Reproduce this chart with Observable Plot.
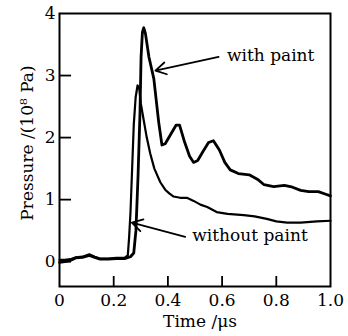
<!DOCTYPE html>
<html>
<head>
<meta charset="utf-8">
<script src="https://cdn.jsdelivr.net/npm/d3@7"></script>
<script src="https://cdn.jsdelivr.net/npm/@observablehq/plot@0.6"></script>
<style>
  html, body { margin: 0; padding: 0; background: white; }
</style>
</head>
<body>
<div id="chart"></div>
<script>
// With paint (thick line)
const timeWith = [0.000,0.020,0.040,0.060,0.085,0.110,0.130,0.150,0.180,0.210,0.240,0.262,0.274,0.282,0.290,0.297,0.301,0.306,0.311,0.317,0.330,0.348,0.366,0.378,0.390,0.410,0.430,0.443,0.460,0.480,0.495,0.510,0.530,0.550,0.568,0.590,0.610,0.630,0.660,0.700,0.730,0.755,0.790,0.830,0.860,0.890,0.920,0.955,0.980,1.000];
const pressureWith = [-0.01,0.00,0.02,0.06,0.07,0.10,0.07,0.04,0.04,0.05,0.05,0.08,0.14,0.50,1.40,2.40,3.30,3.70,3.77,3.68,3.30,2.95,2.25,1.88,1.90,2.05,2.20,2.20,1.95,1.70,1.60,1.63,1.78,1.92,1.95,1.80,1.60,1.48,1.42,1.40,1.33,1.24,1.21,1.23,1.20,1.15,1.13,1.13,1.09,1.06];

// Without paint (thinner line)
const timeWithout = [0.000,0.020,0.040,0.060,0.085,0.110,0.130,0.150,0.180,0.210,0.240,0.252,0.257,0.262,0.268,0.274,0.281,0.288,0.294,0.300,0.310,0.322,0.335,0.350,0.372,0.390,0.405,0.421,0.445,0.470,0.495,0.520,0.545,0.580,0.620,0.680,0.720,0.765,0.800,0.840,0.890,0.950,1.000];
const pressureWithout = [0.03,0.03,0.04,0.07,0.08,0.12,0.08,0.05,0.05,0.06,0.06,0.10,0.40,0.80,1.50,2.20,2.65,2.84,2.80,2.55,2.30,2.00,1.74,1.50,1.28,1.16,1.10,1.05,1.03,1.03,0.98,0.92,0.88,0.80,0.77,0.75,0.73,0.69,0.65,0.63,0.63,0.65,0.66];

// Annotations
const annoText = ["with paint", "without paint"];
const annoTextX = [0.618, 0.49];
const annoTextY = [3.32, 0.42];
const arrowX1 = [0.587, 0.464];
const arrowY1 = [3.30, 0.40];
const arrowX2 = [0.354, 0.267];
const arrowY2 = [3.08, 0.63];

// Axes
const xTicks = [0, 0.2, 0.4, 0.6, 0.8, 1.0];
const xTickLabels = ["0", "0.2", "0.4", "0.6", "0.8", "1.0"];
const yTicks = [0, 1, 2, 3, 4];
const yTickLabels = ["0", "1", "2", "3", "4"];
const xTitle = "Time /μs";
const yTitle = "Pressure /(10⁸ Pa)";

const withData = timeWith.map((t, i) => ({t, p: pressureWith[i]}));
const withoutData = timeWithout.map((t, i) => ({t, p: pressureWithout[i]}));
const annos = annoText.map((s, i) => ({s, x: annoTextX[i], y: annoTextY[i]}));
const arrows = arrowX1.map((x1, i) => ({x1, y1: arrowY1[i], x2: arrowX2[i], y2: arrowY2[i]}));

const chart = Plot.plot({
  width: 348,
  height: 336,
  marginLeft: 59,
  marginRight: 18,
  marginTop: 13,
  marginBottom: 50,
  style: {fontFamily: "DejaVu Serif", fontSize: "17px", background: "white", color: "black"},
  x: {domain: [0, 1]},
  y: {domain: [-0.4, 4]},
  marks: [
    // inward tick marks
    Plot.axisX(xTicks.slice(1, 5), {tickSize: 10, dy: -10, tickFormat: () => "", label: null, strokeWidth: 1.8}),
    Plot.axisY(yTicks.slice(0, 4), {tickSize: 12, dx: 12, tickFormat: () => "", label: null, strokeWidth: 1.8}),
    // tick labels
    Plot.axisX(xTicks, {tickSize: 0, tickPadding: 7, tickFormat: (d) => xTickLabels[xTicks.indexOf(d)], label: null, fontSize: 17}),
    Plot.axisY(yTicks, {tickSize: 0, tickPadding: 4, tickFormat: (d) => yTickLabels[yTicks.indexOf(d)], label: null, fontSize: 17}),
    // axis titles
    Plot.text([xTitle], {frameAnchor: "bottom", dy: 35, dx: 5, text: d => d, fontSize: 17, textAnchor: "middle", lineAnchor: "middle"}),
    Plot.text([yTitle], {frameAnchor: "left", rotate: -90, dx: -32, dy: -7, text: d => d, fontSize: 17, textAnchor: "middle", lineAnchor: "middle"}),
    // data
    Plot.line(withoutData, {x: "t", y: "p", stroke: "black", strokeWidth: 2.2}),
    Plot.line(withData, {x: "t", y: "p", stroke: "black", strokeWidth: 2.8}),
    // annotations
    Plot.arrow(arrows, {x1: "x1", y1: "y1", x2: "x2", y2: "y2", stroke: "black", strokeWidth: 1.8, headLength: 10, bend: 0}),
    Plot.text(annos, {x: "x", y: "y", text: "s", textAnchor: "start", fontSize: 17, fill: "black"}),
    Plot.frame({stroke: "black", strokeWidth: 2})
  ]
});
document.getElementById("chart").appendChild(chart);
</script>
</body>
</html>
